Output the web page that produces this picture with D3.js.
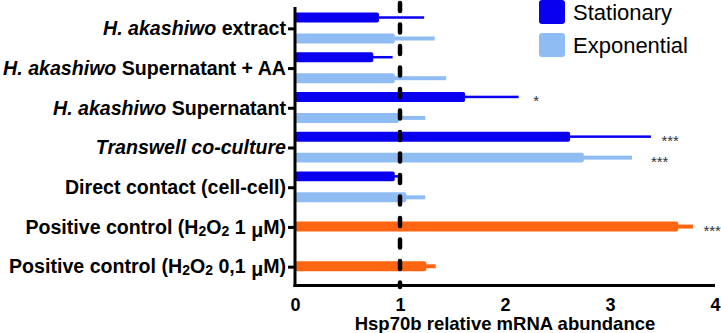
<!DOCTYPE html>
<html>
<head>
<meta charset="utf-8">
<script src="https://cdn.jsdelivr.net/npm/d3@7"></script>
<style>
  body { margin: 0; background: #fff; }
  svg { display: block; font-family: "Liberation Sans", Arial, sans-serif; }
</style>
</head>
<body>
<svg width="721" height="333"></svg>
<script>
// categories (top to bottom)
const categories = [
    "H. akashiwo extract",
    "H. akashiwo Supernatant + AA",
    "H. akashiwo Supernatant",
    "Transwell co-culture",
    "Direct contact (cell-cell)",
    "Positive control (H2O2 1 μM)",
    "Positive control (H2O2 0,1 μM)"
];

// mean values and upper end of error bars
const stationaryMean = [0.80, 0.745, 1.62, 2.62, 0.95, null, null];
const stationaryErr  = [1.23, 0.93, 2.13, 3.39, 0.99, null, null];
const exponentialMean = [0.95, 0.95, 0.99, 2.75, 1.06, null, null];
const exponentialErr  = [1.33, 1.44, 1.24, 3.21, 1.24, null, null];
const positiveMean = [null, null, null, null, null, 3.65, 1.25];
const positiveErr  = [null, null, null, null, null, 3.79, 1.34];

// significance marks: [category index, series, label, x position in axis units]
const stars = [
    [2, "Stationary", "*", 2.27],
    [3, "Stationary", "***", 3.49],
    [3, "Exponential", "***", 3.39],
    [5, "Positive", "***", 3.89]
];

const xTicks = [0, 1, 2, 3, 4];
const seriesNames = ["Stationary", "Positive", "Exponential"];
const colors = { Stationary: "#0a00f0", Exponential: "#8fbcf3", Positive: "#ff6611" };
const errWidth = { Stationary: 2.5, Exponential: 4, Positive: 4 };

const svg = d3.select("svg");

const x = d3.scaleLinear().domain([0, 4]).range([295, 715]);
const y = d3.scaleBand().domain(categories).range([9, 287]);
const ySub = d3.scaleBand().domain(seriesNames).range([3, 35]).padding(0.05);

// build flat list of bars
const bars = [];
categories.forEach((c, i) => {
    [["Stationary", stationaryMean, stationaryErr],
     ["Exponential", exponentialMean, exponentialErr],
     ["Positive", positiveMean, positiveErr]].forEach(([s, m, e]) => {
        if (m[i] != null) bars.push({ cat: c, series: s, mean: m[i], err: e[i] });
    });
});

// error bars (drawn first, bar body over them)
svg.append("g").selectAll("rect")
    .data(bars)
    .join("rect")
    .attr("x", x(0))
    .attr("y", d => y(d.cat) + ySub(d.series) + ySub.bandwidth() / 2 - errWidth[d.series] / 2)
    .attr("width", d => x(d.err) - x(0))
    .attr("height", d => errWidth[d.series])
    .attr("fill", d => colors[d.series]);

svg.append("g").selectAll("rect")
    .data(bars)
    .join("rect")
    .attr("x", x(0))
    .attr("y", d => y(d.cat) + ySub(d.series))
    .attr("width", d => x(d.mean) - x(0))
    .attr("height", ySub.bandwidth())
    .attr("rx", 2)
    .attr("fill", d => colors[d.series]);

// stars
svg.append("g").selectAll("text")
    .data(stars)
    .join("text")
    .attr("x", d => x(d[3]))
    .attr("y", d => y(categories[d[0]]) + ySub(d[1]) + ySub.bandwidth() / 2 + 9)
    .style("font-size", "15px")
    .attr("fill", "#333")
    .text(d => d[2]);

// reference line at 1
svg.append("line")
    .attr("x1", x(1)).attr("x2", x(1))
    .attr("y1", 3).attr("y2", 287)
    .attr("stroke", "#000")
    .attr("stroke-width", 4.5)
    .attr("stroke-linecap", "round")
    .attr("stroke-dasharray", "8,13.5");

// y axis
const yAxis = svg.append("g")
    .attr("transform", `translate(${x(0)},0)`)
    .call(d3.axisLeft(y).tickSize(7).tickSizeOuter(0).tickPadding(2));
yAxis.select(".domain").attr("stroke-width", 3).attr("d", "M0,7V287");
yAxis.selectAll(".tick line").attr("stroke-width", 3);
yAxis.selectAll(".tick text")
    .style("font-size", "19.6px")
    .style("font-weight", "bold")
    .attr("fill", "#000")
    .each(function(d) {
        const t = d3.select(this).text("");
        const m = d.match(/^(H\. akashiwo|Transwell co-culture)(.*)$/);
        if (m) {
            t.append("tspan").style("font-style", "italic").text(m[1]);
            if (m[2]) t.append("tspan").text(m[2]);
            return;
        }
        const p = d.match(/^(.*\(H)2O2 (.*)μM\)$/);
        if (p) {
            t.append("tspan").text(p[1]);
            t.append("tspan").style("font-size", "14px").attr("dy", 2).text("2");
            t.append("tspan").attr("dy", -2).text("O");
            t.append("tspan").style("font-size", "14px").attr("dy", 2).text("2");
            t.append("tspan").attr("dy", -2).text(" " + p[2]);
            t.append("tspan").attr("dy", 3).text("μ");
            t.append("tspan").attr("dy", -3).text("M)");
            return;
        }
        t.text(d);
    });

// x axis
const xAxis = svg.append("g")
    .attr("transform", "translate(0,285.5)")
    .call(d3.axisBottom(x).tickValues(xTicks).tickFormat(d3.format("d")).tickSize(0).tickPadding(13));
xAxis.select(".domain").attr("stroke-width", 3).attr("d", `M${x(0) - 1.5},0H${x(4)}`);
xAxis.selectAll(".tick text")
    .style("font-size", "18px")
    .style("font-weight", "bold")
    .attr("fill", "#000");

svg.append("text")
    .attr("x", x(2))
    .attr("y", 330)
    .attr("text-anchor", "middle")
    .style("font-size", "18.5px")
    .style("font-weight", "bold")
    .text("Hsp70b relative mRNA abundance");

// legend
const legend = svg.append("g");
[["Stationary", 0], ["Exponential", 33]].forEach(([s, ly]) => {
    legend.append("rect")
        .attr("x", 539).attr("y", ly)
        .attr("width", 26).attr("height", 24)
        .attr("rx", 3)
        .attr("fill", colors[s]);
    legend.append("text")
        .attr("x", 573).attr("y", ly + 20)
        .style("font-size", "22px")
        .text(s);
});
</script>
</body>
</html>
